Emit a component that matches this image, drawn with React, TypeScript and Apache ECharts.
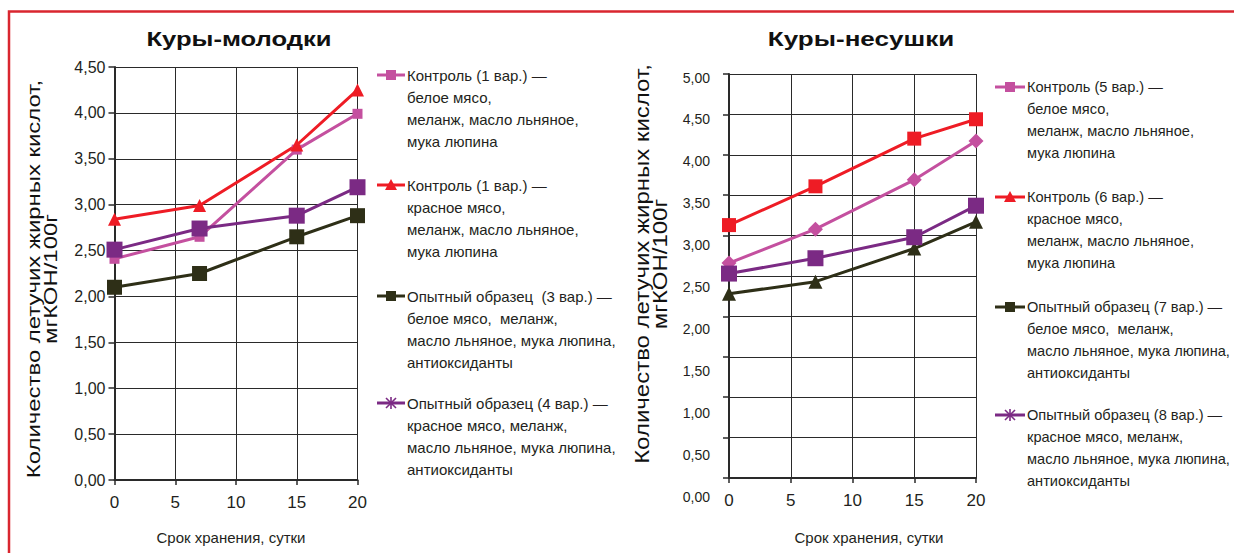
import React, { useEffect, useRef } from "react";
import * as echarts from "echarts";

// ---------- data ----------
const DAYS = [0, 7, 15, 20];

// Куры-молодки
const L_CTRL_WHITE = [2.41, 2.65, 3.6, 3.99];
const L_CTRL_RED = [2.84, 2.99, 3.65, 4.25];
const L_EXP_WHITE = [2.1, 2.25, 2.65, 2.88];
const L_EXP_RED = [2.51, 2.74, 2.88, 3.19];

// Куры-несушки
const R_CTRL_WHITE = [2.66, 3.08, 3.69, 4.17];
const R_CTRL_RED = [3.13, 3.61, 4.2, 4.44];
const R_EXP_WHITE = [2.28, 2.43, 2.84, 3.17];
const R_EXP_RED = [2.53, 2.72, 2.98, 3.37];

const TITLE_LEFT = "Куры-молодки";
const TITLE_RIGHT = "Куры-несушки";
const Y_NAME = "Количество летучих жирных кислот,\nмгКОН/100г";
const X_NAME = "Срок хранения, сутки";

const LEGEND_LEFT = [
  ["Контроль (1 вар.) —", "белое мясо,", "меланж, масло льняное,", "мука люпина"],
  ["Контроль (1 вар.) —", "красное мясо,", "меланж, масло льняное,", "мука люпина"],
  ["Опытный образец  (3 вар.) —", "белое мясо,  меланж,", "масло льняное, мука люпина,", "антиоксиданты"],
  ["Опытный образец (4 вар.) —", "красное мясо, меланж,", "масло льняное, мука люпина,", "антиоксиданты"],
];
const LEGEND_RIGHT = [
  ["Контроль (5 вар.) —", "белое мясо,", "меланж, масло льняное,", "мука люпина"],
  ["Контроль (6 вар.) —", "красное мясо,", "меланж, масло льняное,", "мука люпина"],
  ["Опытный образец (7 вар.) —", "белое мясо,  меланж,", "масло льняное, мука люпина,", "антиоксиданты"],
  ["Опытный образец (8 вар.) —", "красное мясо, меланж,", "масло льняное, мука люпина,", "антиоксиданты"],
];

// ---------- styles ----------
const PINK = "#c4509f";
const RED = "#ee1c25";
const OLIVE = "#2e2f17";
const PURPLE = "#7b2a84";
const INK = "#231f20";
const ARIAL = "'Liberation Sans', Arial, Helvetica, sans-serif";

const fmt = (v: number) => v.toFixed(2).replace(".", ",");

function legendIcon(kind: string, color: string, x1: number, x2: number, y: number) {
  const cx = (x1 + x2) / 2;
  const els: any[] = [
    { type: "line", shape: { x1, y1: y, x2, y2: y }, style: { stroke: color, lineWidth: 3 } },
  ];
  if (kind === "square") {
    els.push({ type: "rect", shape: { x: cx - 5, y: y - 5, width: 10, height: 10 }, style: { fill: color } });
  } else if (kind === "triangle") {
    els.push({ type: "polygon", shape: { points: [[cx, y - 6], [cx + 6, y + 5], [cx - 6, y + 5]] }, style: { fill: color } });
  } else if (kind === "asterisk") {
    els.push({ type: "line", shape: { x1: cx, y1: y - 6, x2: cx, y2: y + 6 }, style: { stroke: color, lineWidth: 1.6 } });
    els.push({ type: "line", shape: { x1: cx - 5, y1: y - 5, x2: cx + 5, y2: y + 5 }, style: { stroke: color, lineWidth: 1.6 } });
    els.push({ type: "line", shape: { x1: cx - 5, y1: y + 5, x2: cx + 5, y2: y - 5 }, style: { stroke: color, lineWidth: 1.6 } });
  }
  return els;
}

function legendBlock(entries: string[][], kinds: string[], colors: string[], iconX1: number, iconX2: number, textX: number, firstY: number[], fontSize: number) {
  const els: any[] = [];
  entries.forEach((lines, i) => {
    els.push(...legendIcon(kinds[i], colors[i], iconX1, iconX2, firstY[i]));
    els.push({
      type: "text",
      x: textX,
      y: firstY[i] - 11,
      style: {
        text: lines.join("\n"),
        font: `${fontSize}px ${ARIAL}`,
        lineHeight: 22,
        fill: INK,
        align: "left",
        verticalAlign: "top",
      },
    });
  });
  return els;
}

export default function App() {
  const ref = useRef<HTMLDivElement>(null);

  useEffect(() => {
    if (!ref.current) return;
    const chart = echarts.init(ref.current, null, { renderer: "svg" });

    const xAxisBase = (gridIndex: number) => ({
      type: "value",
      gridIndex,
      min: 0,
      max: 20,
      interval: 5,
      axisLine: { show: true, lineStyle: { color: "#2a2a2a", width: 2 } },
      axisTick: { show: true, length: 5, lineStyle: { color: "#2a2a2a", width: 1.5 } },
      axisLabel: { margin: 14, fontFamily: ARIAL, fontSize: 17, color: INK },
      splitLine: { show: true, lineStyle: { color: "#2a2a2a", width: 1 } },
    });

    const rightRich: Record<string, any> = {};
    for (let i = 0; i <= 10; i++) {
      rightRich["l" + i] = {
        fontFamily: ARIAL,
        fontSize: 14,
        color: INK,
        padding: [2 * (18.5 - 1.5 * i), 0, 0, 0],
      };
    }

    const lineSeries = (name: string, xi: number, vals: number[], color: string, symbol: string, size: number) => ({
      type: "line",
      name,
      xAxisIndex: xi,
      yAxisIndex: xi,
      data: DAYS.map((d, k) => [d, vals[k]]),
      symbol,
      symbolSize: size,
      showAllSymbol: true,
      lineStyle: { color, width: 3 },
      itemStyle: { color },
      emphasis: { disabled: true },
    });

    const option: any = {
      animation: false,
      backgroundColor: "#ffffff",
      grid: [
        { left: 114.5, top: 67, width: 243, height: 413, containLabel: false },
        { left: 729, top: 74, width: 247, height: 404, containLabel: false },
      ],
      xAxis: [xAxisBase(0), xAxisBase(1)],
      yAxis: [
        {
          type: "value",
          gridIndex: 0,
          min: 0,
          max: 4.5,
          interval: 0.5,
          axisLine: { show: true, lineStyle: { color: "#2a2a2a", width: 2 } },
          axisTick: { show: true, length: 6, lineStyle: { color: "#2a2a2a", width: 1.5 } },
          axisLabel: { margin: 9, fontFamily: ARIAL, fontSize: 16, color: INK, formatter: fmt },
          splitLine: { show: true, lineStyle: { color: "#2a2a2a", width: 1 } },
        },
        {
          type: "value",
          gridIndex: 1,
          min: 0,
          max: 5,
          interval: 0.5,
          axisLine: { show: true, lineStyle: { color: "#2a2a2a", width: 2 } },
          axisTick: { show: true, length: 6, lineStyle: { color: "#2a2a2a", width: 1.5 } },
          axisLabel: {
            margin: 19,
            fontFamily: ARIAL,
            fontSize: 14,
            color: INK,
            formatter: (v: number) => `{l${Math.round(v * 2)}|${fmt(v)}}`,
            rich: rightRich,
          },
          splitLine: { show: true, lineStyle: { color: "#2a2a2a", width: 1 } },
        },
      ],
      series: [
        lineSeries("Контроль (1 вар.) — белое мясо", 0, L_CTRL_WHITE, PINK, "rect", 10),
        lineSeries("Контроль (1 вар.) — красное мясо", 0, L_CTRL_RED, RED, "triangle", 13),
        lineSeries("Опытный образец (3 вар.)", 0, L_EXP_WHITE, OLIVE, "rect", 15),
        lineSeries("Опытный образец (4 вар.)", 0, L_EXP_RED, PURPLE, "rect", 16),
        lineSeries("Контроль (5 вар.)", 1, R_CTRL_WHITE, PINK, "diamond", 15),
        lineSeries("Контроль (6 вар.)", 1, R_CTRL_RED, RED, "rect", 14),
        lineSeries("Опытный образец (7 вар.)", 1, R_EXP_WHITE, OLIVE, "triangle", 14),
        lineSeries("Опытный образец (8 вар.)", 1, R_EXP_RED, PURPLE, "rect", 16),
      ],
      graphic: [
        {
          type: "rect",
          z: -10,
          shape: { x: 9, y: 11.5, width: 1250, height: 600 },
          style: { fill: "none", stroke: "#d9262f", lineWidth: 2.5 },
        },
        {
          type: "text",
          x: 239,
          y: 39,
          scaleX: 1.22,
          style: { text: TITLE_LEFT, font: `bold 21px ${ARIAL}`, fill: "#111", align: "center", verticalAlign: "middle" },
        },
        {
          type: "text",
          x: 861,
          y: 39,
          scaleX: 1.24,
          style: { text: TITLE_RIGHT, font: `bold 21px ${ARIAL}`, fill: "#111", align: "center", verticalAlign: "middle" },
        },
        {
          type: "text",
          x: 42,
          y: 279,
          rotation: Math.PI / 2,
          scaleX: 1.33,
          style: { text: Y_NAME, font: `18px ${ARIAL}`, lineHeight: 17, fill: "#111", align: "center", verticalAlign: "middle" },
        },
        {
          type: "text",
          x: 651.5,
          y: 264,
          rotation: Math.PI / 2,
          scaleX: 1.2,
          style: { text: Y_NAME, font: `20px ${ARIAL}`, lineHeight: 18, fill: "#111", align: "center", verticalAlign: "middle" },
        },
        {
          type: "text",
          x: 231,
          y: 537,
          style: { text: X_NAME, font: `15px ${ARIAL}`, fill: INK, align: "center", verticalAlign: "middle" },
        },
        {
          type: "text",
          x: 869,
          y: 537,
          style: { text: X_NAME, font: `15px ${ARIAL}`, fill: INK, align: "center", verticalAlign: "middle" },
        },
        ...legendBlock(
          LEGEND_LEFT,
          ["square", "triangle", "square", "asterisk"],
          [PINK, RED, OLIVE, PURPLE],
          377,
          405,
          407,
          [75, 185, 296, 403],
          15
        ),
        ...legendBlock(
          LEGEND_RIGHT,
          ["square", "triangle", "square", "asterisk"],
          [PINK, RED, OLIVE, PURPLE],
          995,
          1025,
          1027,
          [87, 197, 307, 415],
          14.6
        ),
      ],
    };

    chart.setOption(option);
    return () => chart.dispose();
  }, []);

  return (
    <div
      ref={ref}
      style={{ position: "absolute", left: 0, top: 0, width: 1234, height: 553, background: "#fff" }}
    />
  );
}
